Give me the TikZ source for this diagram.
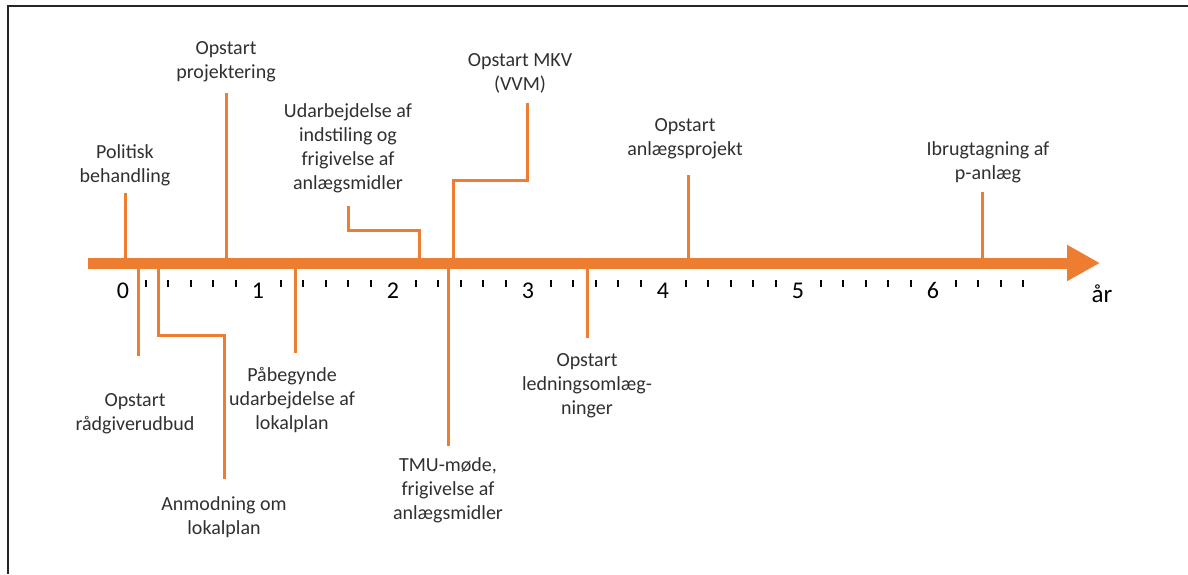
\documentclass[tikz,border=0pt]{standalone}
\usepackage{fontspec}
\setmainfont{Carlito}
\usepackage{xcolor}
\usepackage{tikz}
\usetikzlibrary{arrows.meta,positioning}
\definecolor{tlorange}{HTML}{ED7D31}
\definecolor{tltext}{HTML}{303030}

\begin{document}
\begin{tikzpicture}[x=0.5pt, y=-0.5pt,
  lbl/.style={align=center, inner sep=0pt, text=tltext, font=\fontsize{10}{12}\selectfont},
  evt/.style={draw=tlorange, line width=1.5pt},
  num/.style={inner sep=0pt, text=black, font=\fontsize{12}{14}\selectfont}]
\useasboundingbox (0,0) rectangle (1188,574);

% Frame (only left and top edge visible)
\draw[line width=1pt, black!85] (8,574) -- (8,6) -- (1188,6);

% Points on the axis and line ends
\coordinate (axis) at (0,263);
\coordinate (pol-e) at (125,193);
\coordinate (proj-e) at (226,93);
\coordinate (udarb-e) at (348,206);
\coordinate (udarb-a) at (419,263);
\coordinate (mkv-e) at (527,103);
\coordinate (mkv-a) at (453,263);
\coordinate (anl-e) at (688,175);
\coordinate (ibrug-e) at (982,192);
\coordinate (radg-e) at (138,356);
\coordinate (anm-a) at (158,263);
\coordinate (anm-e) at (224,479);
\coordinate (pab-e) at (295,353);
\coordinate (tmu-e) at (448,446);
\coordinate (led-e) at (587,338);

% Milestones above the axis
\node[lbl, above=3.5pt of pol-e] (pol) {Politisk\\behandling};
\node[lbl, above=5.5pt of proj-e] (proj) {Opstart\\projektering};
\node[lbl, above=6.5pt of udarb-e] (udarb) {Udarbejdelse af\\indstiling og\\frigivelse af\\anlægsmidler};
\node[lbl, above=4.5pt of mkv-e, xshift=-3.5pt] (mkv) {Opstart MKV\\(VVM)};
\node[lbl, above=8pt of anl-e, xshift=-1.5pt] (anl) {Opstart\\anlægsprojekt};
\node[lbl, above=4.5pt of ibrug-e, xshift=3pt] (ibrug) {Ibrugtagning af\\p-anlæg};

\draw[evt] (pol-e) -- (pol-e |- axis);
\draw[evt] (proj-e) -- (proj-e |- axis);
\draw[evt] (udarb-e) -- ++(0,24) -| (udarb-a);
\draw[evt] (mkv-e) -- ++(0,77) -| (mkv-a);
\draw[evt] (anl-e) -- (anl-e |- axis);
\draw[evt] (ibrug-e) -- (ibrug-e |- axis);

% Milestones below the axis
\node[lbl, below=18.5pt of radg-e, xshift=-1.5pt] (radg) {Opstart\\rådgiverudbud};
\node[lbl, below=8.5pt of anm-e] (anm) {Anmodning om\\lokalplan};
\node[lbl, below=7pt of pab-e, xshift=-1.5pt] (pab) {Påbegynde\\udarbejdelse af\\lokalplan};
\node[lbl, below=5.5pt of tmu-e] (tmu) {TMU-møde,\\frigivelse af\\anlægsmidler};
\node[lbl, below=7.5pt of led-e] (led) {Opstart\\ledningsomlæg-\\ninger};

\draw[evt] (radg-e |- axis) -- (radg-e);
\draw[evt] (anm-a) -- ++(0,72) -| (anm-e);
\draw[evt] (pab-e |- axis) -- (pab-e);
\draw[evt] (tmu-e |- axis) -- (tmu-e);
\draw[evt] (led-e |- axis) -- (led-e);

% Time axis
\draw[line width=5.5pt, tlorange, -{Triangle[width=17pt,length=16.5pt]}] (88,263) -- (1100,263);

% Year numbers and ticks
\foreach \n in {0,...,6}
  \node[num] (yr\n) at (123+135*\n,290.5) {\n};
\foreach \k in {1,...,40} {
  \pgfmathtruncatemacro\r{mod(\k,6)}
  \ifnum\r>0 \draw[line width=1pt] (123+22.5*\k,280) -- ++(0,7); \fi
}
\node[num, font=\fontsize{12.5}{14}\selectfont] (aar) at (1102,294) {år};

\end{tikzpicture}
\end{document}
